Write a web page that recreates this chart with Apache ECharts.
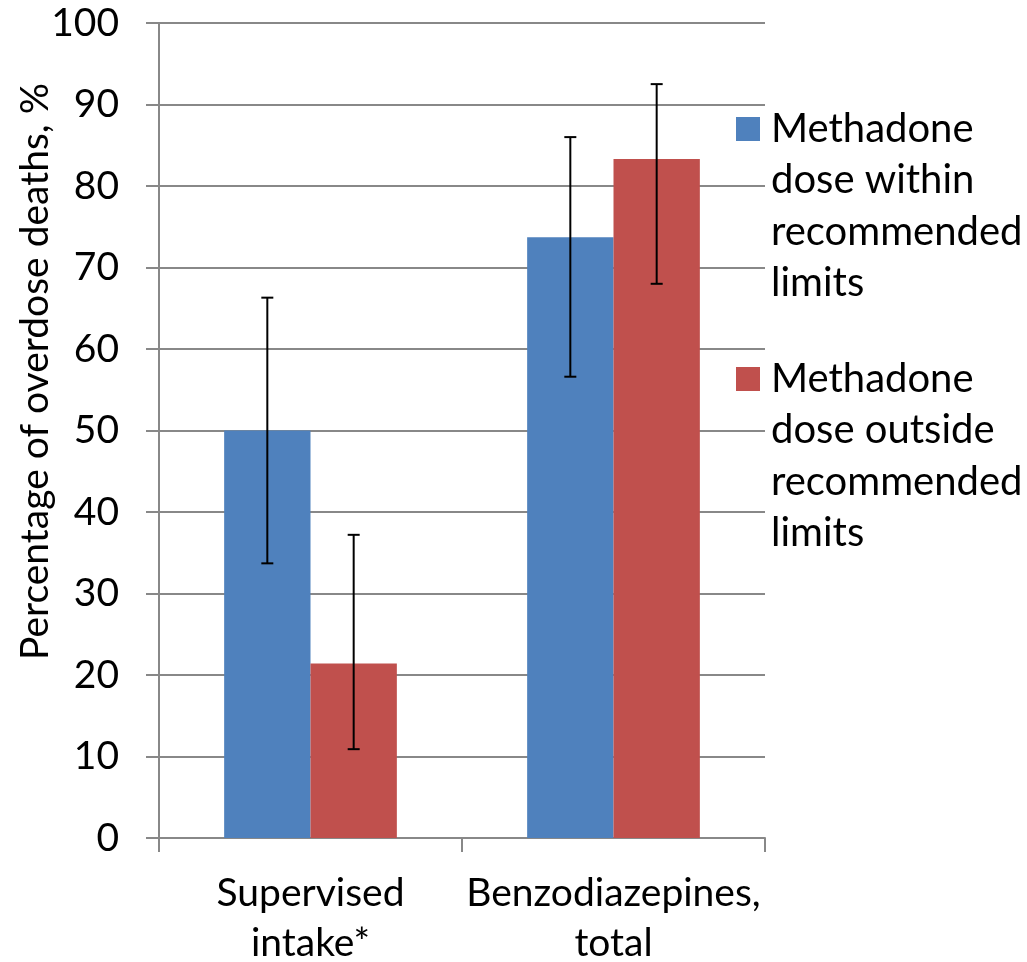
<!DOCTYPE html>
<html>
<head>
<meta charset="utf-8">
<script src="https://cdn.jsdelivr.net/npm/echarts@6/dist/echarts.min.js"></script>
<style>
  html, body { margin: 0; padding: 0; background: #fff; }
  #chart { width: 1027px; height: 962px; }
</style>
</head>
<body>
<div id="chart"></div>
<script>
var categories = ['Supervised\nintake*', 'Benzodiazepines,\ntotal'];
var seriesNames = ['Methadone\ndose within\nrecommended\nlimits', 'Methadone\ndose outside\nrecommended\nlimits'];
var withinValues = [50.0, 73.7];
var outsideValues = [21.4, 83.3];
var withinLow = [33.7, 56.6];
var withinHigh = [66.3, 86.0];
var outsideLow = [10.9, 68.0];
var outsideHigh = [37.2, 92.5];

var colors = ['#4F81BD', '#C0504D'];
var gridGray = '#888888';
var font = 'Lato';
var catGap = 0.43;

// error bar data: [categoryIndex, low, high]
function errData(low, high) {
  return low.map(function (v, i) { return [i, v, high[i]]; });
}

function errorBarRender(side) {
  return function (params, api) {
    var i = api.value(0);
    var band = api.size([1, 0])[0];
    var off = side * band * (1 - catGap) / 4;
    var lo = api.coord([i, api.value(1)]);
    var hi = api.coord([i, api.value(2)]);
    var x = lo[0] + off;
    var cap = 6;
    var style = { stroke: '#000', lineWidth: 2 };
    return {
      type: 'group',
      children: [
        { type: 'line', shape: { x1: x, y1: hi[1], x2: x, y2: lo[1] }, style: style },
        { type: 'line', shape: { x1: x - cap, y1: hi[1], x2: x + cap, y2: hi[1] }, style: style },
        { type: 'line', shape: { x1: x - cap, y1: lo[1], x2: x + cap, y2: lo[1] }, style: style }
      ]
    };
  };
}

// legend text is centred on the icon, so pad with empty lines above
// to bring the first line level with the square
var legendLine = 51.5;
function legendFormat(name) { return '\n\n\n' + name; }
var legendText = {
  fontFamily: font,
  fontSize: 40,
  color: '#000',
  lineHeight: legendLine,
  padding: [0, 0, 0, 6]
};

var option = {
  animation: false,
  grid: { left: 159, right: 262, top: 23, bottom: 124, outerBoundsMode: 'none' },
  legend: [
    {
      data: [seriesNames[0]],
      left: 736, top: 129 - 3.5 * legendLine,
      padding: 0,
      itemWidth: 24, itemHeight: 24,
      icon: 'rect',
      formatter: legendFormat,
      textStyle: legendText
    },
    {
      data: [seriesNames[1]],
      left: 736, top: 379 - 3.5 * legendLine,
      padding: 0,
      itemWidth: 24, itemHeight: 24,
      icon: 'rect',
      formatter: legendFormat,
      textStyle: legendText
    }
  ],
  xAxis: {
    type: 'category',
    data: categories,
    axisLine: { lineStyle: { color: gridGray, width: 2 } },
    axisTick: { show: true, length: 14, lineStyle: { color: gridGray, width: 2 } },
    axisLabel: {
      fontFamily: font, fontSize: 39, color: '#000',
      lineHeight: 50, margin: 30, interval: 0
    }
  },
  yAxis: {
    type: 'value',
    min: 0, max: 100, interval: 10,
    name: 'Percentage of overdose deaths, %',
    nameLocation: 'middle',
    nameGap: 104,
    nameMoveOverlap: false,
    nameTextStyle: {
      fontFamily: font, fontSize: 39, color: '#000',
      padding: [0, 0, 0, 118]
    },
    axisLine: { show: true, lineStyle: { color: gridGray, width: 2 } },
    axisTick: { show: true, length: 13, lineStyle: { color: gridGray, width: 2 } },
    axisLabel: { fontFamily: font, fontSize: 39, color: '#000', margin: 40 },
    splitLine: { lineStyle: { color: gridGray, width: 2 } }
  },
  series: [
    {
      name: seriesNames[0], type: 'bar', data: withinValues,
      itemStyle: { color: colors[0] },
      barGap: 0, barCategoryGap: (catGap * 100) + '%'
    },
    {
      name: seriesNames[1], type: 'bar', data: outsideValues,
      itemStyle: { color: colors[1] },
      barGap: 0, barCategoryGap: (catGap * 100) + '%'
    },
    {
      type: 'custom', name: 'withinErr',
      data: errData(withinLow, withinHigh),
      renderItem: errorBarRender(-1),
      encode: { x: 0, y: [1, 2] },
      z: 10
    },
    {
      type: 'custom', name: 'outsideErr',
      data: errData(outsideLow, outsideHigh),
      renderItem: errorBarRender(1),
      encode: { x: 0, y: [1, 2] },
      z: 10
    }
  ]
};

var chart = echarts.init(document.getElementById('chart'), null, { renderer: 'canvas' });
chart.setOption(option);
</script>
</body>
</html>
